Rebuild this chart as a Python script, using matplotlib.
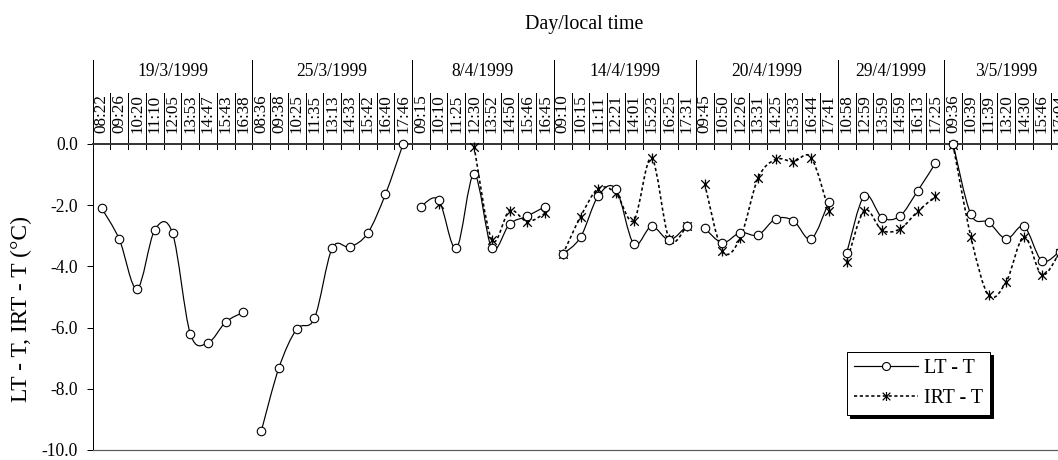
import numpy as np
import matplotlib
matplotlib.use("Agg")
import matplotlib.pyplot as plt
from matplotlib.path import Path
from matplotlib.patches import PathPatch
from matplotlib.lines import Line2D
from matplotlib.ticker import FormatStrFormatter
import matplotlib.transforms as mtransforms

plt.rcParams['font.family'] = ['Liberation Serif', 'DejaVu Serif']
plt.rcParams['axes.unicode_minus'] = False

# ---------------- data ----------------
date_labels = ['19/3/1999', '25/3/1999', '8/4/1999', '14/4/1999',
               '20/4/1999', '29/4/1999', '3/5/1999']
day_sizes = [9, 9, 8, 8, 8, 6, 7]
time_labels = ['08:22', '09:26', '10:20', '11:10', '12:05', '13:53', '14:47', '15:43', '16:38',
               '08:36', '09:38', '10:25', '11:35', '13:13', '14:33', '15:42', '16:40', '17:46',
               '09:15', '10:10', '11:25', '12:30', '13:52', '14:50', '15:46', '16:45',
               '09:10', '10:15', '11:11', '12:21', '14:01', '15:23', '16:25', '17:31',
               '09:45', '10:50', '12:26', '13:31', '14:25', '15:33', '16:44', '17:41',
               '10:58', '12:59', '13:59', '14:59', '16:13', '17:25',
               '09:36', '10:39', '11:39', '13:20', '14:30', '15:46', '17:04']
lt_values = [-2.10, -3.12, -4.74, -2.81, -2.92, -6.20, -6.50, -5.82, -5.50,
             -9.39, -7.31, -6.05, -5.70, -3.41, -3.37, -2.92, -1.65, 0.0,
             -2.05, -1.83, -3.41, -0.99, -3.41, -2.62, -2.36, -2.05,
             -3.61, -3.05, -1.70, -1.48, -3.27, -2.70, -3.14, -2.67,
             -2.76, -3.23, -2.90, -2.98, -2.45, -2.51, -3.11, -1.89,
             -3.57, -1.69, -2.41, -2.36, -1.54, -0.64,
             0.0, -2.30, -2.56, -3.11, -2.70, -3.82, -3.52]
nan = np.nan
irt_values = [nan] * 9 + [nan] * 9 + \
             [nan, -1.96, nan, -0.09, -3.14, -2.18, -2.54, -2.27,
              -3.61, -2.38, -1.46, -1.62, -2.51, -0.46, -3.12, -2.67,
              -1.31, -3.50, -3.08, -1.13, -0.51, -0.58, -0.45, -2.18,
              -3.87, -2.18, -2.83, -2.78, -2.21, -1.72,
              -0.04, -3.03, -4.95, -4.50, -3.03, -4.28, -3.55]
y_ticks = [0, -2, -4, -6, -8, -10]

# ---------------- figure ----------------
W, H, DPI = 1058, 460, 72
fig = plt.figure(figsize=(W / DPI, H / DPI), dpi=DPI)

ax_left, ax_right = 92.7, 92.7 + 55 * 17.74   # pixels (axis runs past right edge)
ax_top, ax_bot = 143.8, 450.0
ax = fig.add_axes([ax_left / W, 1 - ax_bot / H, (ax_right - ax_left) / W,
                   (ax_bot - ax_top) / H])
n = len(time_labels)
ax.set_xlim(0, n)
ax.set_ylim(-10, 0)
ax.set_xticks([])
ax.set_yticks(y_ticks)
ax.yaxis.set_major_formatter(FormatStrFormatter('%.1f'))
ax.tick_params(axis='y', length=6.5, width=1, pad=8, labelsize=17.5, color='black')
ax.spines['right'].set_visible(False)
ax.spines['top'].set_color('#383838')
ax.spines['top'].set_linewidth(2)
ax.spines['bottom'].set_color('#5a5a5a')
ax.spines['bottom'].set_linewidth(1.2)
ax.spines['left'].set_linewidth(1)


def smooth_path(xs, ys):
    P = np.column_stack([xs, ys])
    m = len(P)
    verts = [tuple(P[0])]
    codes = [Path.MOVETO]
    for i in range(m - 1):
        p0 = P[i - 1] if i > 0 else P[i]
        p1 = P[i]
        p2 = P[i + 1]
        p3 = P[i + 2] if i + 2 < m else P[i + 1]
        c1 = p1 + (p2 - p0) / 6.0
        c2 = p2 - (p3 - p1) / 6.0
        verts += [tuple(c1), tuple(c2), tuple(p2)]
        codes += [Path.CURVE4] * 3
    return Path(verts, codes)


star_marker = Path([(0, -1), (0, 1), (-0.85, -0.85), (0.85, 0.85),
                    (-0.85, 0.85), (0.85, -0.85)],
                   [Path.MOVETO, Path.LINETO] * 3)

xpos = np.arange(n) + 0.5
lt = np.array(lt_values, dtype=float)
irt = np.array(irt_values, dtype=float)
starts = np.concatenate([[0], np.cumsum(day_sizes)])


def draw_series(vals, lw, dashes=None):
    for d in range(len(day_sizes)):
        a, b = starts[d], starts[d + 1]
        xs, ys = xpos[a:b], vals[a:b]
        run_x, run_y = [], []
        for x, y in list(zip(xs, ys)) + [(None, np.nan)]:
            if np.isnan(y):
                if len(run_x) >= 2:
                    patch = PathPatch(smooth_path(run_x, run_y), fill=False,
                                      edgecolor='black', lw=lw, clip_on=False,
                                      zorder=3)
                    if dashes is not None:
                        patch.set_linestyle((0, dashes))
                    ax.add_patch(patch)
                run_x, run_y = [], []
            else:
                run_x.append(x)
                run_y.append(y)


draw_series(irt, 1.6, dashes=(2.0, 1.6))
draw_series(lt, 1.2)

ax.plot(xpos, irt, linestyle='none', marker=star_marker, markersize=10,
        mec='black', mew=1.3, zorder=4, clip_on=False)
ax.plot(xpos, lt, linestyle='none', marker='o', markersize=8.5,
        mfc='white', mec='black', mew=1.1, zorder=5, clip_on=False)

# ---------------- category labels above the axis ----------------
bt = mtransforms.blended_transform_factory(ax.transData, fig.transFigure)


def fy(py):
    return 1 - py / H


for i in range(n + 1):
    top = 60 if i in starts else 93
    ax.plot([i, i], [fy(148.5), fy(top)], color='black', lw=1,
            transform=bt, clip_on=False, zorder=2)

for i, t in enumerate(time_labels):
    ax.text(i + 0.5, fy(133), t, rotation=90, rotation_mode='anchor',
            ha='left', va='center', fontsize=17, transform=bt)

for d, lab in enumerate(date_labels):
    c = (starts[d] + starts[d + 1]) / 2.0
    ax.text(c, fy(71), lab, ha='center', va='center', fontsize=17.5,
            transform=bt)

fig.text(584 / W, fy(24), 'Day/local time', ha='center', va='center',
         fontsize=20)
fig.text(21 / W, fy(309), 'LT - T, IRT - T (°C)', rotation=90,
         ha='center', va='center', fontsize=23.5)

# ---------------- legend ----------------
h_lt = Line2D([], [], color='black', lw=1.2, marker='o', markersize=8,
              mfc='white', mec='black', mew=1.1)
h_irt = Line2D([], [], color='black', lw=1.6, linestyle=(0, (2.0, 1.6)),
               marker=star_marker, markersize=9, mec='black', mew=1.2)
leg = fig.legend([h_lt, h_irt], ['LT - T', 'IRT - T'], loc='lower left',
                 bbox_to_anchor=(847 / W, 1 - 415 / H),
                 bbox_transform=fig.transFigure, borderaxespad=0,
                 fontsize=20, handlelength=3.2, handletextpad=0.3,
                 numpoints=1, fancybox=False, framealpha=1,
                 edgecolor='black', borderpad=0.35, labelspacing=0.55,
                 shadow={'color': 'black', 'alpha': 1, 'ox': 3, 'oy': -3})
leg.get_frame().set_linewidth(1)

fig.savefig('out.png', dpi=DPI)
